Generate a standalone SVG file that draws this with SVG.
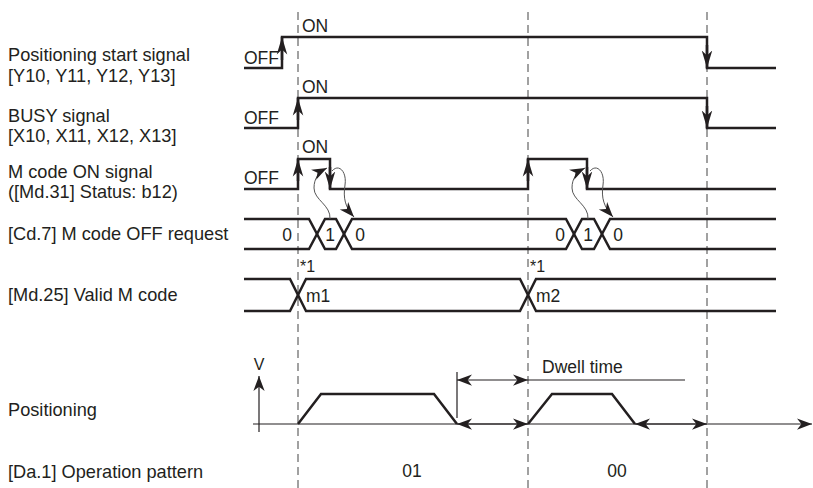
<svg xmlns="http://www.w3.org/2000/svg" width="813" height="488" viewBox="0 0 813 488">
<style>
text{font-family:"Liberation Sans",Arial,sans-serif;fill:#231f20}
.lbl{font-size:18.2px}
.s{font-size:17.5px}
.sm{font-size:16px}
.sig{fill:none;stroke:#231f20;stroke-width:2.5;stroke-linejoin:miter}
.edge{fill:none;stroke:#231f20;stroke-width:2.5;marker-end:url(#ah)}
.thin{fill:none;stroke:#231f20;stroke-width:1.2}
.dash{fill:none;stroke:#8a8a8a;stroke-width:1.6;stroke-dasharray:8 5}
.cv{fill:none;stroke:#555;stroke-width:1}
</style>
<defs>
<marker id="ah" markerUnits="userSpaceOnUse" markerWidth="20" markerHeight="20" viewBox="-14 -6 16 12" refX="0" refY="0" orient="auto">
<path d="M0,0 L-14,-4.2 L-10,0 L-14,4.2 Z" fill="#231f20"/>
</marker>
<marker id="at" markerUnits="userSpaceOnUse" markerWidth="20" markerHeight="20" viewBox="-14 -6 16 12" refX="0" refY="0" orient="auto">
<path d="M0,0 L-12,-4.5 L-8.5,0 L-12,4.5 Z" fill="#231f20"/>
</marker>
<marker id="ats" markerUnits="userSpaceOnUse" markerWidth="20" markerHeight="20" viewBox="-2 -6 16 12" refX="0" refY="0" orient="auto">
<path d="M0,0 L12,-4.5 L8.5,0 L12,4.5 Z" fill="#231f20"/>
</marker>
</defs>

<g id="labels">
<text class="lbl" x="8" y="61">Positioning start signal</text>
<text class="lbl" x="8" y="82">[Y10, Y11, Y12, Y13]</text>
<text class="lbl" x="8" y="122">BUSY signal</text>
<text class="lbl" x="8" y="142">[X10, X11, X12, X13]</text>
<text class="lbl" x="8" y="178">M code ON signal</text>
<text class="lbl" x="8" y="198">([Md.31] Status: b12)</text>
<text class="lbl" x="8" y="240">[Cd.7] M code OFF request</text>
<text class="lbl" x="8" y="301">[Md.25] Valid M code</text>
<text class="lbl" x="8" y="416">Positioning</text>
<text class="lbl" x="8" y="478">[Da.1] Operation pattern</text>
</g>

<g id="guides">
<line class="dash" x1="298" y1="12" x2="298" y2="488"/>
<line class="dash" x1="528" y1="12" x2="528" y2="488"/>
<line class="dash" x1="707" y1="12" x2="707" y2="488"/>
</g>

<g id="positioning-start-signal">
<path class="sig" d="M244,68 H282 V37 H707 V68 H776"/>
<line class="edge" x1="282" y1="60" x2="282" y2="37"/>
<line class="edge" x1="707" y1="45" x2="707" y2="68"/>
<text class="s" x="244" y="64">OFF</text>
<text class="s" x="302" y="32">ON</text>
</g>

<g id="busy-signal">
<path class="sig" d="M244,128 H298 V98 H707 V128 H776"/>
<line class="edge" x1="298" y1="120" x2="298" y2="98"/>
<line class="edge" x1="707" y1="106" x2="707" y2="128"/>
<text class="s" x="244" y="124">OFF</text>
<text class="s" x="302" y="93">ON</text>
</g>

<g id="m-code-on-signal">
<path class="sig" d="M244,189 H298 V159 H330 V189 H528 V159 H587 V189 H776"/>
<line class="edge" x1="298" y1="181" x2="298" y2="159"/>
<line class="edge" x1="330" y1="167" x2="330" y2="189"/>
<line class="edge" x1="528" y1="181" x2="528" y2="159"/>
<line class="edge" x1="587" y1="167" x2="587" y2="189"/>
<text class="s" x="244" y="184">OFF</text>
<text class="s" x="302" y="153">ON</text>
</g>

<g id="m-code-off-request">
<path class="sig" d="M244,219 H309 L325,249 H336 L352,219 H566 L582,249 H594 L610,219 H776"/>
<path class="sig" d="M244,249 H309 L325,219 H336 L352,249 H566 L582,219 H594 L610,249 H776"/>
<text class="s" x="287" y="241" text-anchor="middle">0</text>
<text class="s" x="330" y="241" text-anchor="middle">1</text>
<text class="s" x="360" y="241" text-anchor="middle">0</text>
<text class="s" x="560" y="241" text-anchor="middle">0</text>
<text class="s" x="588" y="241" text-anchor="middle">1</text>
<text class="s" x="618" y="241" text-anchor="middle">0</text>
</g>

<g id="valid-m-code">
<path class="sig" d="M244,279 H290 L306,311 H520 L536,279 H776"/>
<path class="sig" d="M244,311 H290 L306,279 H520 L536,311 H776"/>
<text class="sm" x="300" y="272">*1</text>
<text class="sm" x="530" y="272">*1</text>
<text class="s" x="306" y="302">m1</text>
<text class="s" x="536" y="302">m2</text>
</g>

<g id="positioning">
<line class="thin" x1="259" y1="432" x2="259" y2="376" marker-end="url(#at)"/>
<text class="sm" x="259" y="370" text-anchor="middle">V</text>
<line class="thin" x1="253" y1="424" x2="812" y2="424" marker-end="url(#at)"/>
<path class="sig" d="M298,424 L321,394 H434 L457,424"/>
<path class="sig" d="M528,424 L552,394 H612 L635,424"/>
<line class="thin" x1="457" y1="372" x2="457" y2="418"/>
<text class="s" x="542" y="373">Dwell time</text>
<line class="thin" x1="528" y1="380" x2="685" y2="380"/>
</g>

<g id="operation-pattern">
<text class="s" x="412" y="477" text-anchor="middle">01</text>
<text class="s" x="617" y="477" text-anchor="middle">00</text>
</g>

<g id="connectors">
<line class="thin" x1="457" y1="380" x2="528" y2="380" marker-start="url(#ats)" marker-end="url(#at)"/>
<line class="thin" x1="457" y1="424" x2="528" y2="424" marker-start="url(#ats)" marker-end="url(#at)"/>
<line class="thin" x1="635" y1="424" x2="707" y2="424" marker-start="url(#ats)" marker-end="url(#at)"/>
<path class="cv" d="M330,219 C331,205 314,200 314,188 C314,178 319,172 327,168" marker-end="url(#at)"/>
<path class="cv" d="M332,171 C339,163 347,172 345,185 C343,198 345,207 354,217" marker-end="url(#at)"/>
<path class="cv" d="M588,219 C589,205 572,200 572,188 C572,178 577,172 585,168" marker-end="url(#at)"/>
<path class="cv" d="M590,171 C597,163 605,172 603,185 C601,198 604,207 613,217" marker-end="url(#at)"/>
</g>
</svg>
